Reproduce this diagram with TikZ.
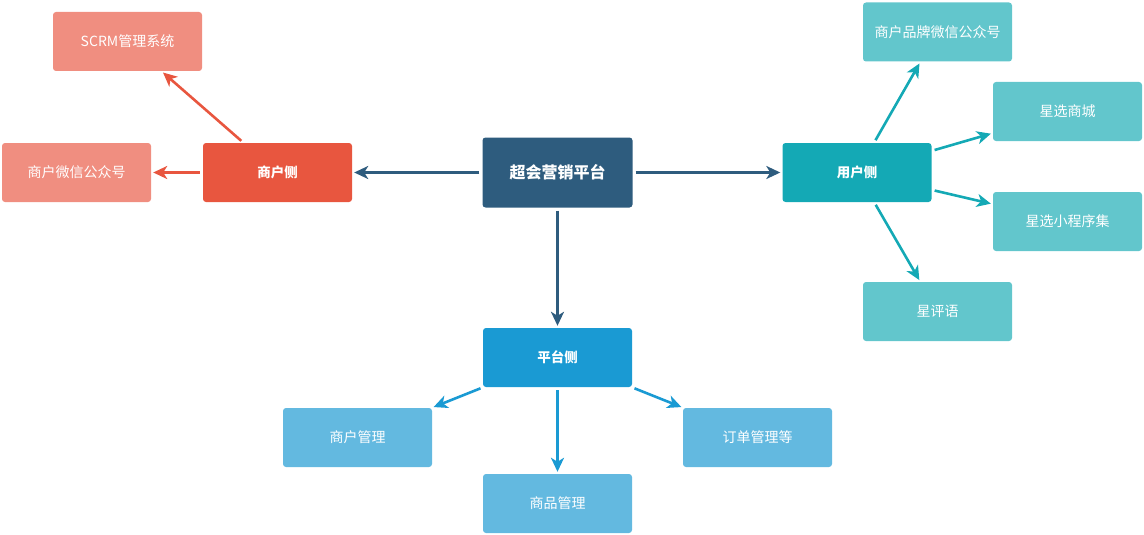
\documentclass[tikz,border=0pt]{standalone}
\usepackage{fontspec}
\setmainfont{Noto Sans CJK SC}
\usetikzlibrary{arrows.meta}
\definecolor{cRed}{HTML}{E8563F}
\definecolor{cRedL}{HTML}{F08E80}
\definecolor{cDark}{HTML}{2E5C7E}
\definecolor{cTeal}{HTML}{14A9B5}
\definecolor{cTealL}{HTML}{62C6CC}
\definecolor{cBlue}{HTML}{1A9AD3}
\definecolor{cBlueL}{HTML}{63B9E0}
\tikzset{
  box/.style={rectangle, rounded corners=3pt, minimum width=149pt, minimum height=59pt, inner sep=0pt, text=white, font=\fontsize{14}{16}\selectfont},
  mainbox/.style={box, font=\fontsize{13.5}{16}\selectfont\bfseries},
  conn/.style={line width=2.6pt, -{Stealth[length=14pt,width=13pt,inset=4pt]}, shorten <=3pt, shorten >=2pt},
}
\begin{document}
\begin{tikzpicture}[x=1pt,y=-1pt]
\useasboundingbox (0,0) rectangle (1144,535);
% center
\node[box, fill=cDark, minimum width=150pt, minimum height=70pt, font=\fontsize{16}{18}\selectfont\bfseries] (c) at (557.5,172.5) {超会营销平台};
% merchant side
\node[mainbox, fill=cRed] (m) at (277.5,172.5) {商户侧};
\node[box, fill=cRedL] (scrm) at (127.5,41.5) {SCRM管理系统};
\node[box, fill=cRedL] (mwx) at (76.5,172.5) {商户微信公众号};
% user side
\node[mainbox, fill=cTeal] (u) at (857,172.5) {用户侧};
\node[box, fill=cTealL] (brand) at (937.5,32) {商户品牌微信公众号};
\node[box, fill=cTealL] (mall) at (1067.5,111.5) {星选商城};
\node[box, fill=cTealL] (mini) at (1067.5,221.5) {星选小程序集};
\node[box, fill=cTealL] (rev) at (937.5,311.5) {星评语};
% platform side
\node[mainbox, fill=cBlue] (p) at (557.5,357.5) {平台侧};
\node[box, fill=cBlueL] (pm) at (357.5,437.5) {商户管理};
\node[box, fill=cBlueL] (pg) at (557.5,503.5) {商品管理};
\node[box, fill=cBlueL] (po) at (757.5,437.5) {订单管理等};
% connectors
\draw[conn, cDark] (c) -- (m);
\draw[conn, cDark] (c) -- (u);
\draw[conn, cDark] (c) -- (p);
\draw[conn, cRed] (m) -- (scrm);
\draw[conn, cRed] (m) -- (mwx);
\draw[conn, cTeal] (u) -- (brand);
\draw[conn, cTeal] (u) -- (mall);
\draw[conn, cTeal] (u) -- (mini);
\draw[conn, cTeal] (u) -- (rev);
\draw[conn, cBlue] (p) -- (pm);
\draw[conn, cBlue] (p) -- (pg);
\draw[conn, cBlue] (p) -- (po);
\end{tikzpicture}
\end{document}
